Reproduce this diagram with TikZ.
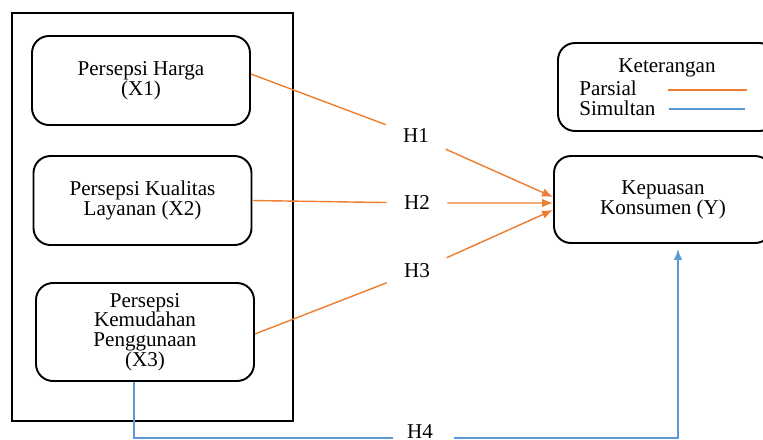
\documentclass[tikz,border=0pt]{standalone}
\usepackage{fontspec}
\setmainfont{Liberation Serif}
\usetikzlibrary{arrows.meta}
\definecolor{parsialcol}{RGB}{237,125,49}
\definecolor{simultancol}{RGB}{91,155,213}

\begin{document}
\begin{tikzpicture}[x=0.2mm,y=-0.2mm]
\tikzset{
    box/.style={
           rectangle,
           draw,
           line width=1.1pt,
           rounded corners=3.4mm,
           minimum width=43.6mm,
           minimum height=17.8mm,
           align=center,
           font=\fontsize{12}{11.2}\selectfont},
    hypo/.style={
           rectangle,
           minimum width=12mm,
           minimum height=5mm,
           font=\fontsize{12}{11}\selectfont},
    legend/.style={
           inner sep=0pt,
           font=\fontsize{12}{11}\selectfont},
    % Define line styles
    parsial/.style= {
           line width=0.8pt,
           draw=parsialcol},
    simultan/.style= {
           line width=0.8pt,
           draw=simultancol},
    arrow/.style= {
           -{Latex[length=2.2mm,width=1.7mm]}
    }
}
\clip (0,0) rectangle (763,439);
\node[draw,line width=1.1pt,minimum width=56.2mm,minimum height=81.6mm] (frame) at (152.5,217) {};
\node[box] (x1) at (141,80.5) {Persepsi Harga\\(X1)};
\node[box] (x2) at (142.5,200.5) {Persepsi Kualitas\\Layanan (X2)};
\node[box,minimum height=19.6mm] (x3) at (145,332) {Persepsi\\Kemudahan\\Penggunaan\\(X3)};
\node[box,minimum height=17.4mm] (kp) at (663,199.5) {Kepuasan\\Konsumen (Y)};
\node[box,minimum width=43.6mm,minimum height=17.6mm] (ket) at (667,87) {};
\node[legend] (lket) at (667,68) {Keterangan};
\node[legend,anchor=west] (lpar) at (579,88) {Parsial};
\node[legend,anchor=west] (lsim) at (579,108) {Simultan};
\draw[parsial] (668,90) -- (747,90);
\draw[simultan] (669,109) -- (745,109);
\node[hypo] (h1) at (416,136) {H1};
\node[hypo] (h2) at (417,203) {H2};
\node[hypo] (h3) at (417,271) {H3};
\node[hypo,anchor=base] (h4) at (420,438.3) {H4};
\coordinate (b1) at (393,437.8);
\coordinate (b2) at (454,437.8);
\draw[parsial] ([yshift=1.3mm]x1.east) -- (h1);
\draw[parsial,arrow] (h1) -- ([yshift=0.5mm]kp.west);
\draw[parsial] (x2.east) -- (h2);
\draw[parsial,arrow] (h2) -- ([yshift=-0.7mm]kp.west);
\draw[parsial] ([yshift=-0.4mm]x3.east) -- (h3);
\draw[parsial,arrow] (h3) -- ([yshift=-2.1mm]kp.west);
\draw[simultan] ([xshift=-2.2mm]x3.south) |- (b1);
\draw[simultan,arrow,shorten >=1mm] (b2) -| ([xshift=3mm]kp.south);
\end{tikzpicture}
\end{document}
